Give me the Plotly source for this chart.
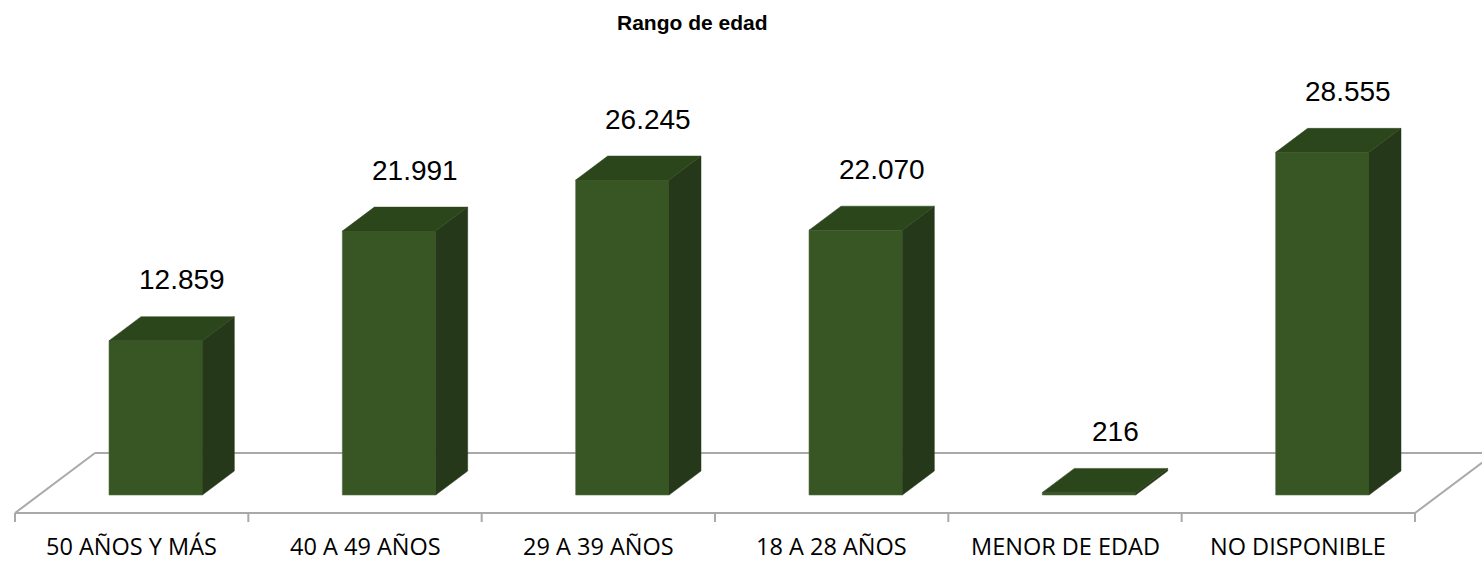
import plotly.graph_objects as go

# ---- data ----
categories = ["50 AÑOS Y MÁS", "40 A 49 AÑOS", "29 A 39 AÑOS", "18 A 28 AÑOS", "MENOR DE EDAD", "NO DISPONIBLE"]
values = [12859, 21991, 26245, 22070, 216, 28555]
value_labels = ["12.859", "21.991", "26.245", "22.070", "216", "28.555"]
title_text = "Rango de edad"

# ---- geometry of the pseudo-3D projection ----
W, H = 1482, 563
PX_PER_CAT = 233.333          # px per category along x
PX_PER_VAL = 0.012            # px per value unit along y
X0_PX, FLOOR_PX = 15, 513     # pixel position of the front-left floor corner
DEPTH_DX_PX, DEPTH_DY_PX = 80, 60
DX = DEPTH_DX_PX / PX_PER_CAT          # depth shift in x (category units)
DY = DEPTH_DY_PX / PX_PER_VAL          # depth shift in y (value units)
BAR_U0, BAR_U1 = 0.3, 0.7              # bar extent inside a category
BAR_W0, BAR_W1 = 0.3, 0.7              # bar extent along depth
n = len(categories)

def P(u, w, v):
    return u + w * DX, v + w * DY

FRONT = "#375623"
TOP = "#2c461c"
SIDE = "#25391a"
FLOOR = "#a9a9a9"

fig = go.Figure()

# floor outline (drawn below the traces)
def seg(a, b):
    fig.add_shape(type="line", xref="x", yref="y", x0=a[0], y0=a[1], x1=b[0], y1=b[1],
                  line=dict(color=FLOOR, width=2), layer="below")

seg(P(0, 1, 0), P(n, 1, 0))
seg(P(0, 0, 0), P(0, 1, 0))
seg(P(n, 0, 0), P(n, 1, 0))
seg(P(0, 0, 0), P(n, 0, 0))
tick_len = 9 / PX_PER_VAL
for u in range(n + 1):
    x, y = P(u, 0, 0)
    seg((x, y), (x, y - tick_len))

# bars: side and top faces
for i, v in enumerate(values):
    u0, u1 = i + BAR_U0, i + BAR_U1
    side = [P(u1, BAR_W0, 0), P(u1, BAR_W1, 0), P(u1, BAR_W1, v), P(u1, BAR_W0, v), P(u1, BAR_W0, 0)]
    top = [P(u0, BAR_W0, v), P(u1, BAR_W0, v), P(u1, BAR_W1, v), P(u0, BAR_W1, v), P(u0, BAR_W0, v)]
    for poly, col in ((side, SIDE), (top, TOP)):
        fig.add_trace(go.Scatter(x=[p[0] for p in poly], y=[p[1] for p in poly], mode="lines",
                                 fill="toself", fillcolor=col, line=dict(color=col, width=0.5),
                                 hoverinfo="skip"))

# bars: front faces
fig.add_trace(go.Bar(
    x=[i + 0.5 + BAR_W0 * DX for i in range(n)],
    y=values,
    base=BAR_W0 * DY,
    width=BAR_U1 - BAR_U0,
    marker=dict(color=FRONT, line=dict(color="#5a6e4c", width=0.6)),
    hoverinfo="skip",
))

# value labels
for i, (v, t) in enumerate(zip(values, value_labels)):
    x, y = P(i + 0.5, BAR_W0, v)
    fig.add_annotation(x=x, y=y, text=t, showarrow=False, xshift=26, yshift=61,
                       font=dict(family="Liberation Sans, Arial", size=28, color="#000000"),
                       xanchor="center", yanchor="middle")

# category labels
for i, c in enumerate(categories):
    x, y = P(i + 0.5, 0, 0)
    fig.add_annotation(x=x, y=y, text=c, showarrow=False, yshift=-33,
                       font=dict(family="Open Sans, Lato, sans-serif", size=23.5, color="#000000"),
                       xanchor="center", yanchor="middle")

fig.add_annotation(xref="paper", yref="paper", x=692 / W, y=1 - 23 / H, text="<b>%s</b>" % title_text,
                   showarrow=False, xanchor="center", yanchor="middle",
                   font=dict(family="Liberation Sans, Arial", size=21, color="#000000"))

x_min = -X0_PX / PX_PER_CAT
x_max = (W - X0_PX) / PX_PER_CAT
y_max = FLOOR_PX / PX_PER_VAL
y_min = -(H - FLOOR_PX) / PX_PER_VAL

fig.update_layout(
    width=W, height=H, margin=dict(l=0, r=0, t=0, b=0),
    paper_bgcolor="white", plot_bgcolor="white", showlegend=False,
    xaxis=dict(range=[x_min, x_max], visible=False, fixedrange=True),
    yaxis=dict(range=[y_min, y_max], visible=False, fixedrange=True),
)
fig.write_html("out.html", config={"displayModeBar": False},
               post_script="document.body.style.margin='0';document.body.style.overflow='hidden';")
